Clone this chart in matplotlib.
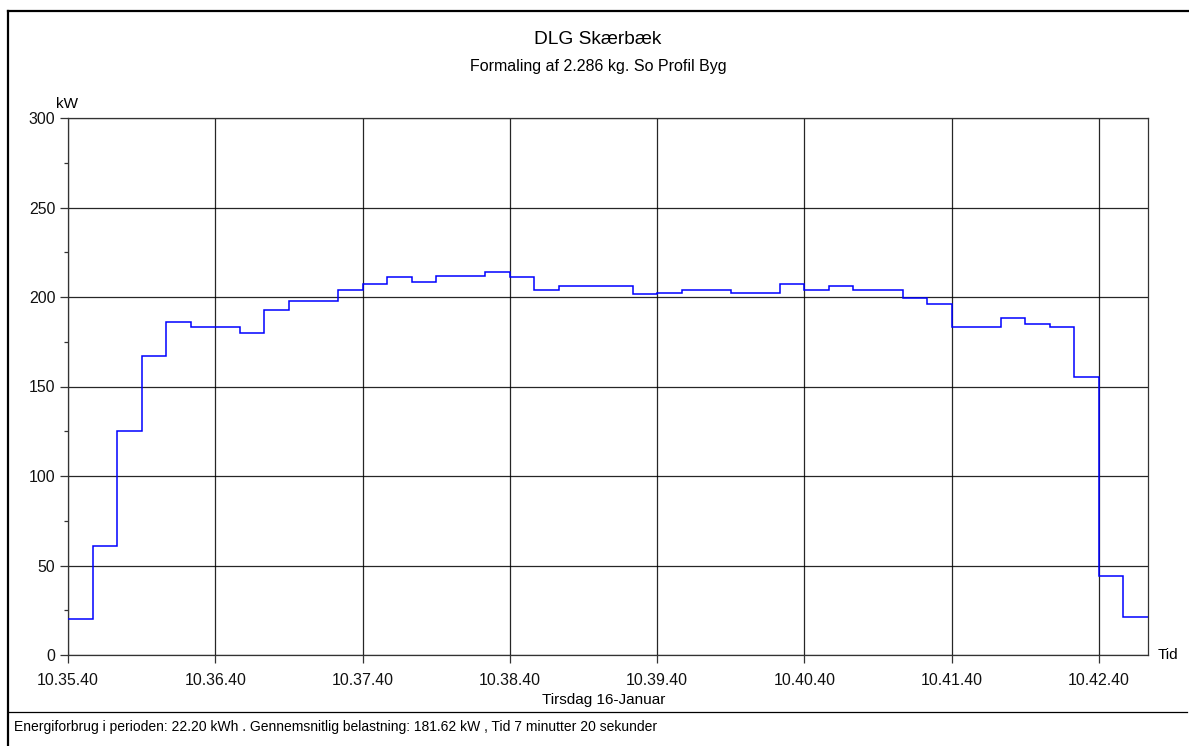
import numpy as np
import matplotlib
matplotlib.use("Agg")
import matplotlib.pyplot as plt
from matplotlib.lines import Line2D

# kW per 10 second interval, 10.35.40 - 10.43.00
load_kw = [20, 61, 125, 167, 186, 183, 183, 180, 193, 198,
           198, 204, 207.5, 211, 208.5, 212, 212, 214, 211, 204,
           206, 206, 206, 201.5, 202.5, 204, 204, 202.5, 202.5, 207.5,
           204, 206, 204, 204, 199.5, 196, 183.5, 183.5, 188.5, 185,
           183.5, 155.5, 44, 21]
step_sec = 10
tick_labels = ["10.35.40", "10.36.40", "10.37.40", "10.38.40",
               "10.39.40", "10.40.40", "10.41.40", "10.42.40"]
y_ticks = [0, 50, 100, 150, 200, 250, 300]

title = "DLG Skærbæk"
subtitle = "Formaling af 2.286 kg. So Profil Byg"
date_label = "Tirsdag 16-Januar"
footer = ("Energiforbrug i perioden: 22.20 kWh . Gennemsnitlig belastning: "
          "181.62 kW , Tid 7 minutter 20 sekunder")

plt.rcParams['font.family'] = ['Liberation Sans', 'DejaVu Sans']

W, H = 1189, 746
fig = plt.figure(figsize=(W / 100, H / 100), dpi=100)

def fx(px):
    return px / W

def fy(py):
    return 1 - py / H

# outer frame (only left and top visible)
fig.add_artist(Line2D([fx(8), fx(8)], [fy(11), fy(H + 5)], color='black', lw=1.6))
fig.add_artist(Line2D([fx(8), fx(W + 5)], [fy(11), fy(11)], color='black', lw=1.6))
# separator above footer
fig.add_artist(Line2D([fx(8), fx(1187)], [fy(712), fy(712)], color='black', lw=0.9))

ax_l, ax_r, ax_t, ax_b = 68, 1148, 118, 655
ax = fig.add_axes([fx(ax_l), fy(ax_b), fx(ax_r - ax_l), (ax_b - ax_t) / H])

edges = np.arange(len(load_kw) + 1) * step_sec
ax.stairs(load_kw, edges, baseline=None, color='#0000ff', lw=1.1, zorder=3)

ax.set_xlim(0, edges[-1])
ax.set_ylim(0, 300)
ax.set_xticks(np.arange(len(tick_labels)) * 60)
ax.set_xticklabels(tick_labels, fontsize=11.4, color='#111111')
ax.set_yticks(y_ticks)
ax.set_yticklabels([str(v) for v in y_ticks], fontsize=11.4, color='#111111')
ax.set_yticks(np.arange(25, 300, 50), minor=True)
ax.tick_params(axis='both', which='major', length=6, width=0.9, color='#333333')
ax.tick_params(axis='x', which='major', pad=7)
ax.tick_params(axis='y', which='major', pad=3)
ax.tick_params(axis='y', which='minor', length=3, width=0.9, color='#333333')
ax.grid(True, which='major', color='black', lw=0.9, alpha=0.85)
for s in ax.spines.values():
    s.set_color('#333333')
    s.set_linewidth(0.9)

fig.text(fx(598), fy(40), title, ha='center', va='center', fontsize=13.8)
fig.text(fx(598), fy(66), subtitle, ha='center', va='center', fontsize=11.5)
fig.text(fx(56), fy(104), "kW", ha='left', va='center', fontsize=11)
fig.text(fx(1158), fy(655), "Tid", ha='left', va='center', fontsize=11)
fig.text(fx(604), fy(700), date_label, ha='center', va='center', fontsize=11)
fig.text(fx(14), fy(727), footer, ha='left', va='center', fontsize=10)

fig.savefig("out.png", dpi=100, facecolor='white')
